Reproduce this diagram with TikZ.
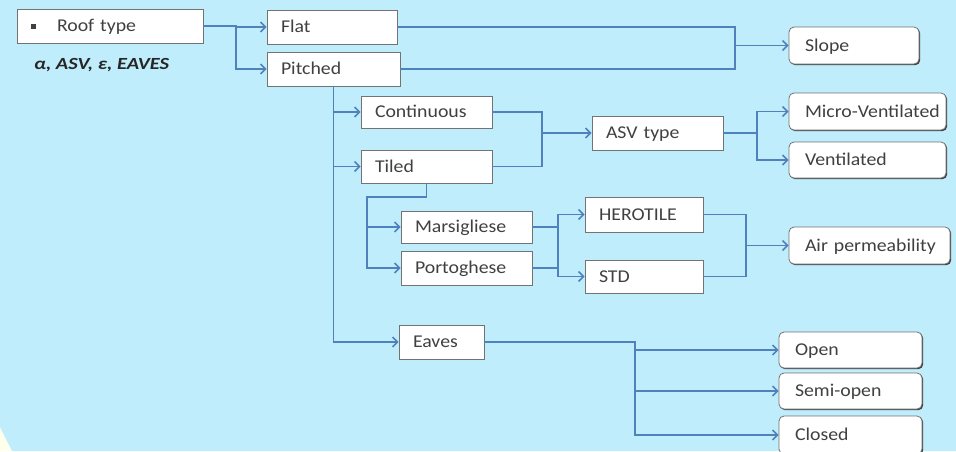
\documentclass[tikz,border=0pt]{standalone}
\usepackage{fontspec}
\setmainfont{Carlito}[FakeStretch=1.1]
\newfontfamily\varfont{Carlito}[FakeStretch=1.2]
\usetikzlibrary{arrows.meta,shadows}
\definecolor{skyBg}{RGB}{191,237,251}
\definecolor{creamBg}{RGB}{255,255,236}
\definecolor{linkBlue}{RGB}{79,129,189}
\definecolor{boxText}{RGB}{64,64,64}
\tikzset{
  rtBox/.style={draw=black!55, fill=white, line width=0.8pt,
    drop shadow={shadow xshift=1.2pt, shadow yshift=-1.2pt, opacity=1, fill=black!75},
    inner xsep=0pt, inner ysep=0pt, align=left, text=boxText, text width=#1,
    text height=11.6pt, text depth=0pt,
    execute at begin node={\hyphenpenalty=10000\exhyphenpenalty=10000\hspace*{14pt}},
    font=\fontsize{18}{20}\selectfont},
  rtEnd/.style={rtBox=#1, rounded corners=5pt,
    execute at begin node={\hspace*{2pt}}},
  %% connectors
  rtLine/.style={draw=linkBlue, line width=1.5pt},
  rtArr/.style={rtLine, -{Straight Barb[length=5pt,width=10pt]}},
}

\begin{document}
\begin{tikzpicture}[x=1pt, y=-1pt]
\useasboundingbox (0,0) rectangle (956,451);
\fill[skyBg] (0,0) rectangle (956,451);
\fill[creamBg] (0,427) .. controls (4,436) and (9,445) .. (12,451) -- (0,451) -- cycle;

%% left column
\node[rtBox=186pt, minimum height=34pt] (bRoof) at (110,26)
  {\raisebox{3pt}{\rule{5pt}{5pt}}\hspace{21pt}Roof type};
\node[anchor=base west, inner sep=0pt, text=black!85,
  font=\varfont\fontsize{17}{19}\selectfont\bfseries\itshape] (lVars) at (34,69) {α, ASV, ε, EAVES};
\node[rtBox=130pt, minimum height=34pt] (bFlat)    at (332,27)    {Flat};
\node[rtBox=133pt, minimum height=34pt] (bPitched) at (333.5,69)  {Pitched};
\node[rtBox=131pt, minimum height=32pt] (bCont)    at (426.5,112) {Continuous};
\node[rtBox=131pt, minimum height=33pt] (bTiled)   at (426.5,166.5) {Tiled};
\node[rtBox=131pt, minimum height=32pt] (bMars)    at (466.5,227) {Marsigliese};
\node[rtBox=131pt, minimum height=34pt] (bPorto)   at (466.5,268) {Portoghese};
\node[rtBox=85pt,  minimum height=34pt] (bEaves)   at (441.5,342) {Eaves};
\node[rtBox=131pt, minimum height=34pt] (bAsv)     at (657.5,133) {ASV type};
\node[rtBox=118pt, minimum height=35pt] (bHero)    at (644,214.5) {HEROTILE};
\node[rtBox=118pt, minimum height=33pt] (bStd)     at (644,276.5) {STD};

%% end boxes
\node[rtEnd=130pt, minimum height=37pt] (eSlope)  at (854,45.5)   {Slope};
\node[rtEnd=157pt, minimum height=37pt] (eMicro)  at (867.5,111.5) {Micro-Ventilated};
\node[rtEnd=157pt, minimum height=36pt] (eVent)   at (867.5,160)  {Ventilated};
\node[rtEnd=161pt, minimum height=37pt] (eAir)    at (869.5,245.5) {Air permeability};
\node[rtEnd=143pt, minimum height=36pt] (eOpen)   at (850.5,350)  {Open};
\node[rtEnd=143pt, minimum height=36pt] (eSemi)   at (850.5,391)  {Semi-open};
\node[rtEnd=143pt, minimum height=38pt] (eClosed) at (850.5,435)  {Closed};

%% junctions
\coordinate (jRoof)  at (236,26);
\coordinate (jSlope) at (735,45.5);
\coordinate (jAsv)   at (542,133);
\coordinate (jVent)  at (757,133);
\coordinate (jTile)  at (367,197);
\coordinate (jMat)   at (558,245);
\coordinate (jAir)   at (746,245.5);
\coordinate (jEave)  at (635,342);

\draw[rtArr] (bRoof.east) -- (jRoof) |- (bFlat.west);
\draw[rtArr] (jRoof) |- (bPitched.west);

\draw[rtLine] (bFlat.east) -| (jSlope);
\draw[rtLine] (bPitched.east) -| (jSlope);
\draw[rtArr] (jSlope) -- (eSlope.west);

\draw[rtArr] (bPitched.south) |- (bCont.west);
\draw[rtArr] (bPitched.south) |- (bTiled.west);
\draw[rtArr] (bPitched.south) |- (bEaves.west);

\draw[rtLine] (bCont.east) -| (jAsv);
\draw[rtLine] (bTiled.east) -| (jAsv);
\draw[rtArr] (jAsv) -- (bAsv.west);
\draw[rtArr] (bAsv.east) -- (jVent) |- (eMicro.west);
\draw[rtArr] (jVent) |- (eVent.west);

\draw[rtArr] (bTiled.south) |- (jTile) |- (bMars.west);
\draw[rtArr] (jTile) |- (bPorto.west);

\draw[rtLine] (bMars.east) -| (jMat);
\draw[rtLine] (bPorto.east) -| (jMat);
\draw[rtArr] (jMat) |- (bHero.west);
\draw[rtArr] (jMat) |- (bStd.west);

\draw[rtLine] (bHero.east) -| (jAir);
\draw[rtLine] (bStd.east) -| (jAir);
\draw[rtArr] (jAir) -- (eAir.west);

\draw[rtArr] (bEaves.east) -- (jEave) |- (eOpen.west);
\draw[rtArr] (jEave) |- (eSemi.west);
\draw[rtArr] (jEave) |- (eClosed.west);

\end{tikzpicture}
\end{document}
